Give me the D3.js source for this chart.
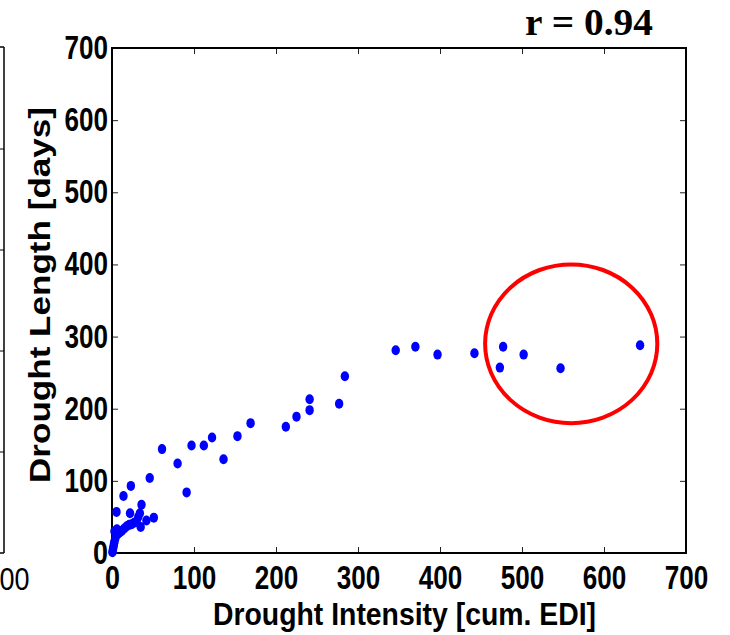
<!DOCTYPE html>
<html>
<head>
<meta charset="utf-8">
<script src="https://cdn.jsdelivr.net/npm/d3@7"></script>
<style>
  body { margin: 0; background: #fff; }
  text { font-family: "Liberation Sans", Arial, sans-serif; }
  text.serif { font-family: "Liberation Serif", "Times New Roman", serif; }
</style>
</head>
<body>
<svg id="chart"></svg>
<script>
var svgWidth = 730;
var svgHeight = 635;

var margin = { top: 48, right: 44, bottom: 82, left: 112 };
var width = svgWidth - margin.left - margin.right;
var height = svgHeight - margin.top - margin.bottom;

// drought events: cumulative EDI vs length in days
var intensity = [0.5, 1, 1.5, 2, 2.5, 3, 4, 5, 3, 6, 8, 10, 12, 15, 18, 21, 24, 27, 30, 32,
  34, 35, 36, 42, 51, 22, 5.5, 14, 23, 46, 61, 80, 91, 97, 112, 122, 136, 153, 169, 212,
  225, 241, 241, 277, 284, 346, 370, 397, 442, 473, 477, 502, 547, 644];
var droughtLength = [1, 4, 7, 10, 13, 16, 20, 24, 30, 33, 27, 29, 31, 34, 37, 39, 40, 42, 44, 50,
  55, 36, 67, 45, 49, 55, 57, 79, 93, 104, 144, 124, 84, 149, 149, 160, 130, 162, 180, 175,
  189, 198, 213, 207, 245, 281, 286, 275, 277, 257, 286, 275, 256, 288];

var xTicks = [0, 100, 200, 300, 400, 500, 600, 700];
var yTicks = [0, 100, 200, 300, 400, 500, 600, 700];

// red ring marking the long-lasting events (data units)
var highlight = { cx: 560, cy: 290, rx: 105, ry: 110 };
var corrLabel = "r = 0.94";

var svg = d3.select("#chart")
  .attr("width", svgWidth)
  .attr("height", svgHeight);

var chartGroup = svg.append("g")
  .attr("transform", `translate(${margin.left}, ${margin.top})`);

var x = d3.scaleLinear().domain([0, 700]).range([0, width]);
var y = d3.scaleLinear().domain([0, 700]).range([height, 0]);

function digitLen(s) {
  return s.length === 1 ? 15 : 14.5 * s.length;
}

// neighbouring panel, cut off at the left edge
var prev = svg.append("g");
prev.append("line")
  .attr("x1", 4).attr("x2", 4)
  .attr("y1", margin.top - 1).attr("y2", margin.top + height)
  .attr("stroke", "#000").attr("stroke-width", 1.5);
prev.selectAll(".ptick")
  .data([1, 2, 3, 4])
  .enter()
  .append("line")
  .attr("x1", 0).attr("x2", 4)
  .attr("y1", d => margin.top + height * d / 5)
  .attr("y2", d => margin.top + height * d / 5)
  .attr("stroke", "#000").attr("stroke-width", 1);
prev.append("line")
  .attr("x1", 0).attr("x2", 4)
  .attr("y1", margin.top - 1).attr("y2", margin.top - 1)
  .attr("stroke", "#000").attr("stroke-width", 1.5);
prev.append("line")
  .attr("x1", 0).attr("x2", 4)
  .attr("y1", margin.top + height).attr("y2", margin.top + height)
  .attr("stroke", "#000").attr("stroke-width", 1.5);
prev.append("text")
  .attr("x", 7)
  .attr("y", 590)
  .attr("text-anchor", "middle")
  .attr("font-size", 32)
  .attr("textLength", 45)
  .attr("lengthAdjust", "spacingAndGlyphs")
  .text("700");

// axes with inward ticks
var xAxis = chartGroup.append("g")
  .attr("transform", `translate(0, ${height})`)
  .call(d3.axisBottom(x).tickValues(xTicks).tickSizeInner(-6).tickSizeOuter(0).tickPadding(13));

var yAxis = chartGroup.append("g")
  .call(d3.axisLeft(y).tickValues(yTicks).tickSizeInner(-6).tickSizeOuter(0).tickPadding(4));

chartGroup.append("g")
  .call(d3.axisTop(x).tickValues(xTicks).tickSizeInner(-6).tickSizeOuter(0).tickFormat(""));

chartGroup.append("g")
  .attr("transform", `translate(${width}, 0)`)
  .call(d3.axisRight(y).tickValues(yTicks).tickSizeInner(-6).tickSizeOuter(0).tickFormat(""));

chartGroup.selectAll(".domain").remove();
chartGroup.selectAll(".tick line").attr("stroke", "#222").attr("stroke-width", 1);

[xAxis, yAxis].forEach(function(ax) {
  ax.selectAll("text")
    .attr("font-size", 33)
    .attr("font-weight", "bold")
    .attr("fill", "#000")
    .attr("textLength", d => digitLen(String(d)))
    .attr("lengthAdjust", "spacingAndGlyphs");
});

chartGroup.append("rect")
  .attr("x", 0).attr("y", 0)
  .attr("width", width).attr("height", height)
  .attr("fill", "none")
  .attr("stroke", "#000")
  .attr("stroke-width", 2);

// scatter points
chartGroup.selectAll(".dot")
  .data(intensity)
  .enter()
  .append("ellipse")
  .attr("cx", d => x(d))
  .attr("cy", (d, i) => y(droughtLength[i]))
  .attr("rx", 4.2)
  .attr("ry", 5)
  .attr("fill", "#0000ff");

chartGroup.append("ellipse")
  .attr("cx", x(highlight.cx))
  .attr("cy", y(highlight.cy))
  .attr("rx", x(highlight.rx) - x(0))
  .attr("ry", y(0) - y(highlight.ry))
  .attr("fill", "none")
  .attr("stroke", "#ff0000")
  .attr("stroke-width", 4);

// axis titles
svg.append("text")
  .attr("x", 404.5)
  .attr("y", 625)
  .attr("text-anchor", "middle")
  .attr("font-size", 32)
  .attr("font-weight", "bold")
  .attr("textLength", 383)
  .attr("lengthAdjust", "spacingAndGlyphs")
  .text("Drought Intensity [cum. EDI]");

svg.append("text")
  .attr("transform", "translate(50, 295) rotate(-90)")
  .attr("text-anchor", "middle")
  .attr("font-size", 30)
  .attr("font-weight", "bold")
  .attr("textLength", 376)
  .attr("lengthAdjust", "spacingAndGlyphs")
  .text("Drought Length [days]");

svg.append("text")
  .attr("class", "serif")
  .attr("x", 525)
  .attr("y", 35)
  .attr("font-size", 37)
  .attr("font-weight", "bold")
  .attr("textLength", 128)
  .attr("lengthAdjust", "spacingAndGlyphs")
  .text(corrLabel);
</script>
</body>
</html>
